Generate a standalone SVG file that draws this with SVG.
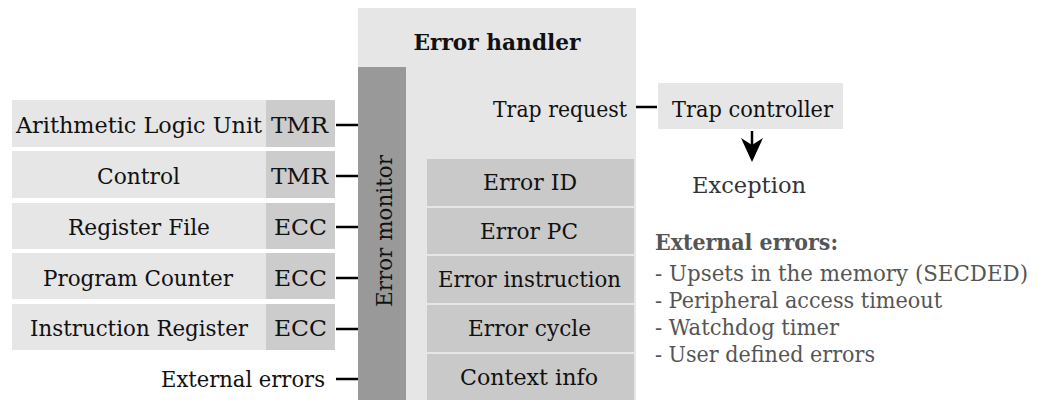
<svg xmlns="http://www.w3.org/2000/svg" width="1038" height="400" viewBox="0 0 1038 400">
<style>
  text { font-family: "DejaVu Serif", serif; font-size: 23px; fill: #111; }
  .mid { text-anchor: middle; }
  .end { text-anchor: end; }
  .bold { font-weight: bold; }
  .light { fill: #e6e6e6; }
  .med { fill: #cccccc; }
  .inner { fill: #c9c9c9; }
  .dark { fill: #999999; }
  .list { font-size: 22px; fill: #555; }
  .conn line { stroke: #000; stroke-width: 2.5; }
</style>
<rect width="1038" height="400" fill="#ffffff"/>

<g id="error-handler">
  <rect class="light" x="358" y="8" width="278" height="392"/>
  <text class="mid bold" x="497" y="50" textLength="167" lengthAdjust="spacingAndGlyphs">Error handler</text>
  <text class="end" x="627" y="117" textLength="134" lengthAdjust="spacingAndGlyphs">Trap request</text>
</g>

<g id="error-monitor">
  <rect class="dark" x="358" y="67" width="48" height="333"/>
  <text class="mid" transform="translate(392,231) rotate(-90)" textLength="152" lengthAdjust="spacingAndGlyphs">Error monitor</text>
</g>

<g id="error-id"><rect class="inner" x="427" y="159" width="207" height="47"/><text class="mid" x="530" y="190" textLength="94" lengthAdjust="spacingAndGlyphs">Error ID</text></g>
<g id="error-pc"><rect class="inner" x="427" y="208" width="207" height="46"/><text class="mid" x="529" y="239" textLength="98" lengthAdjust="spacingAndGlyphs">Error PC</text></g>
<g id="error-instruction"><rect class="inner" x="427" y="256" width="207" height="47"/><text class="mid" x="529.5" y="287" textLength="183" lengthAdjust="spacingAndGlyphs">Error instruction</text></g>
<g id="error-cycle"><rect class="inner" x="427" y="305" width="207" height="47"/><text class="mid" x="529.5" y="336" textLength="123" lengthAdjust="spacingAndGlyphs">Error cycle</text></g>
<g id="context-info"><rect class="inner" x="427" y="354" width="207" height="46"/><text class="mid" x="529" y="385" textLength="138" lengthAdjust="spacingAndGlyphs">Context info</text></g>

<g id="alu">
  <rect class="light" x="12" y="100" width="254" height="47"/>
  <rect class="med" x="266" y="100" width="69" height="47"/>
  <text class="mid" x="139" y="133" textLength="246" lengthAdjust="spacingAndGlyphs">Arithmetic Logic Unit</text>
  <text class="mid" x="299.5" y="133" textLength="57" lengthAdjust="spacingAndGlyphs">TMR</text>
</g>
<g id="control">
  <rect class="light" x="12" y="151" width="254" height="47"/>
  <rect class="med" x="266" y="151" width="69" height="47"/>
  <text class="mid" x="138.5" y="184" textLength="83" lengthAdjust="spacingAndGlyphs">Control</text>
  <text class="mid" x="299.5" y="184" textLength="57" lengthAdjust="spacingAndGlyphs">TMR</text>
</g>
<g id="register-file">
  <rect class="light" x="12" y="203" width="254" height="46"/>
  <rect class="med" x="266" y="203" width="69" height="46"/>
  <text class="mid" x="139" y="235" textLength="142" lengthAdjust="spacingAndGlyphs">Register File</text>
  <text class="mid" x="300.5" y="235" textLength="53" lengthAdjust="spacingAndGlyphs">ECC</text>
</g>
<g id="program-counter">
  <rect class="light" x="12" y="253" width="254" height="46"/>
  <rect class="med" x="266" y="253" width="69" height="46"/>
  <text class="mid" x="138" y="286" textLength="190" lengthAdjust="spacingAndGlyphs">Program Counter</text>
  <text class="mid" x="300.5" y="286" textLength="53" lengthAdjust="spacingAndGlyphs">ECC</text>
</g>
<g id="instruction-register">
  <rect class="light" x="12" y="304" width="254" height="46"/>
  <rect class="med" x="266" y="304" width="69" height="46"/>
  <text class="mid" x="139" y="336" textLength="218" lengthAdjust="spacingAndGlyphs">Instruction Register</text>
  <text class="mid" x="300.5" y="336" textLength="53" lengthAdjust="spacingAndGlyphs">ECC</text>
</g>
<g id="external-errors-in">
  <text class="end" x="325" y="387" textLength="164" lengthAdjust="spacingAndGlyphs">External errors</text>
</g>

<g id="trap-controller">
  <rect class="light" x="658" y="83" width="185" height="46"/>
  <text class="mid" x="752.5" y="117" textLength="161" lengthAdjust="spacingAndGlyphs">Trap controller</text>
</g>
<g id="exception">
  <text class="mid" x="749" y="193" style="fill:#333" textLength="114" lengthAdjust="spacingAndGlyphs">Exception</text>
</g>

<g id="external-errors-list">
  <text class="list bold" x="655" y="250" textLength="183" lengthAdjust="spacingAndGlyphs">External errors:</text>
  <text class="list" x="655" y="281" textLength="373" lengthAdjust="spacingAndGlyphs">- Upsets in the memory (SECDED)</text>
  <text class="list" x="655" y="308" textLength="287" lengthAdjust="spacingAndGlyphs">- Peripheral access timeout</text>
  <text class="list" x="655" y="335" textLength="184" lengthAdjust="spacingAndGlyphs">- Watchdog timer</text>
  <text class="list" x="655" y="362" textLength="220" lengthAdjust="spacingAndGlyphs">- User defined errors</text>
</g>

<g id="connectors" class="conn">
  <line x1="336" y1="125" x2="358" y2="125"/>
  <line x1="336" y1="176" x2="358" y2="176"/>
  <line x1="336" y1="227" x2="358" y2="227"/>
  <line x1="336" y1="278" x2="358" y2="278"/>
  <line x1="336" y1="329" x2="358" y2="329"/>
  <line x1="336" y1="379" x2="358" y2="379"/>
  <line x1="636" y1="107" x2="657" y2="107"/>
  <line x1="752" y1="131" x2="752" y2="148"/>
  <path d="M752,162 L741,138 L752,145 L763,138 Z" fill="#000" stroke="none"/>
</g>
</svg>
